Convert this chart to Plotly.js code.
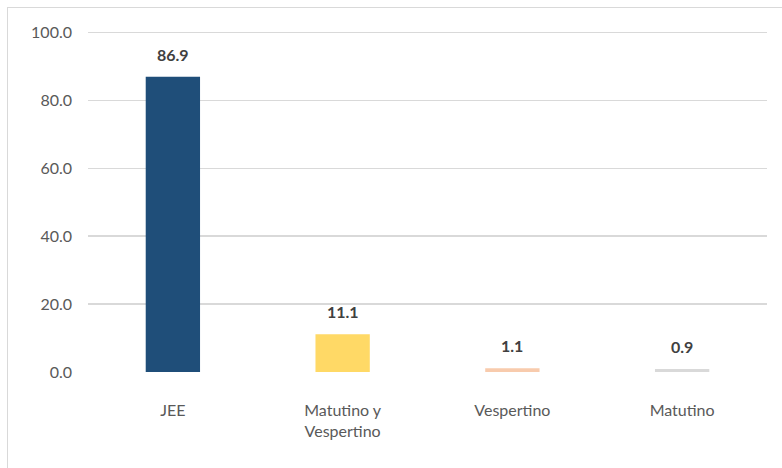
<!DOCTYPE html>
<html>
<head>
<meta charset="utf-8">
<script src="https://cdn.plot.ly/plotly-3.0.1.min.js"></script>
<style>
  html, body { margin: 0; padding: 0; background: #ffffff; }
  #wrap { position: relative; width: 782px; height: 468px; overflow: hidden; }
  #chart { width: 782px; height: 468px; }
  #frame {
    position: absolute; left: 7px; top: 7px; width: 900px; height: 600px;
    border-left: 1px solid #d9d9d9; border-top: 1px solid #d9d9d9;
    pointer-events: none;
  }
</style>
</head>
<body>
<div id="wrap">
  <div id="chart"></div>
  <div id="frame"></div>
</div>
<script>
// Share of schools by shift (%)
const categories = ['JEE', 'Matutino y<br>Vespertino', 'Vespertino', 'Matutino'];
const values = [86.9, 11.1, 1.1, 0.9];
const barColors = ['#1f4e79', '#ffd966', '#f8cbad', '#d9d9d9'];
const yTicks = [0, 20, 40, 60, 80, 100];

const FONT = 'Lato, "Open Sans", "Liberation Sans", sans-serif';

const trace = {
  type: 'bar',
  x: categories,
  y: values,
  marker: { color: barColors, line: { width: 0 } },
  hoverinfo: 'skip'
};

const labels = categories.map((c, i) => ({
  x: c,
  y: values[i],
  xref: 'x',
  yref: 'y',
  text: '<b>' + values[i].toFixed(1) + '</b>',
  showarrow: false,
  yanchor: 'bottom',
  yshift: 11,
  font: { family: FONT, size: 16, color: '#404040' }
}));

const layout = {
  width: 782,
  height: 468,
  margin: { l: 88, r: 15, t: 31, b: 96 },
  paper_bgcolor: '#ffffff',
  plot_bgcolor: '#ffffff',
  showlegend: false,
  bargap: 0.68,
  font: { family: FONT, size: 16, color: '#595959' },
  xaxis: {
    type: 'category',
    showgrid: false,
    showline: false,
    zeroline: false,
    ticks: '',
    ticklabelstandoff: 27,
    tickfont: { family: FONT, size: 16, color: '#595959' }
  },
  yaxis: {
    range: [0, 100.4],
    tickvals: yTicks,
    ticktext: yTicks.map(v => v.toFixed(1)),
    showgrid: true,
    gridcolor: '#d9d9d9',
    gridwidth: 1.3,
    zeroline: false,
    showline: false,
    ticks: '',
    ticklabelstandoff: 15,
    tickfont: { family: FONT, size: 16, color: '#595959' }
  },
  annotations: labels
};

Plotly.newPlot('chart', [trace], layout, { staticPlot: true, displayModeBar: false });
</script>
</body>
</html>
